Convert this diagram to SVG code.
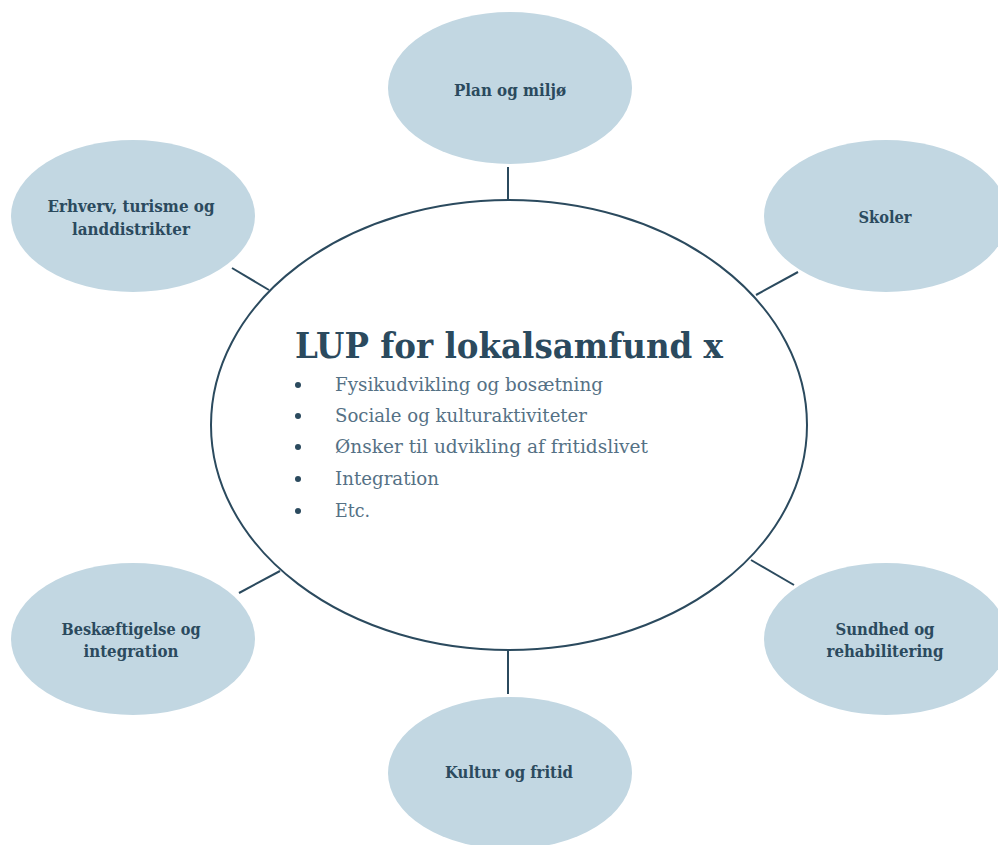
<svg xmlns="http://www.w3.org/2000/svg" width="998" height="845" viewBox="0 0 998 845">
<style>
.outer{fill:#c2d7e2;stroke:none}
.center{fill:#ffffff;stroke:#2b4a5e;stroke-width:2}
.conn{stroke:#2b4a5e;stroke-width:2;fill:none}
.lbl{font-family:"DejaVu Serif","Liberation Serif",serif;font-weight:bold;font-size:16.5px;fill:#2b4a5e;text-anchor:middle}
.title{font-family:"DejaVu Serif","Liberation Serif",serif;font-weight:bold;font-size:36px;fill:#2b4a5e}
.item{font-family:"DejaVu Serif","Liberation Serif",serif;font-size:19px;fill:#557185}
.bul{fill:#2b4a5e}
</style>
<rect width="998" height="845" fill="#ffffff"/>
<g id="connectors">
<line class="conn" x1="508" y1="167" x2="508" y2="200"/>
<line class="conn" x1="232" y1="268" x2="269" y2="290"/>
<line class="conn" x1="798" y1="272" x2="756" y2="295"/>
<line class="conn" x1="239" y1="593" x2="280" y2="571"/>
<line class="conn" x1="794" y1="585" x2="751" y2="560"/>
<line class="conn" x1="508" y1="651" x2="508" y2="694"/>
</g>
<g id="center-node">
<ellipse class="center" cx="509" cy="425" rx="298" ry="225"/>
<text class="title" x="295" y="358" textLength="428" lengthAdjust="spacingAndGlyphs">LUP for lokalsamfund x</text>
<circle class="bul" cx="298" cy="385" r="3"/>
<circle class="bul" cx="298" cy="416" r="3"/>
<circle class="bul" cx="298" cy="447" r="3"/>
<circle class="bul" cx="298" cy="479" r="3"/>
<circle class="bul" cx="298" cy="511" r="3"/>
<text class="item" x="335" y="391" textLength="268" lengthAdjust="spacingAndGlyphs">Fysikudvikling og bosætning</text>
<text class="item" x="335" y="422" textLength="252" lengthAdjust="spacingAndGlyphs">Sociale og kulturaktiviteter</text>
<text class="item" x="335" y="453" textLength="313" lengthAdjust="spacingAndGlyphs">Ønsker til udvikling af fritidslivet</text>
<text class="item" x="335" y="485" textLength="104" lengthAdjust="spacingAndGlyphs">Integration</text>
<text class="item" x="335" y="517" textLength="35" lengthAdjust="spacingAndGlyphs">Etc.</text>
</g>
<g id="node-plan">
<ellipse class="outer" cx="510" cy="88" rx="122" ry="76"/>
<text class="lbl" x="510" y="96" textLength="112" lengthAdjust="spacingAndGlyphs">Plan og miljø</text>
</g>
<g id="node-erhverv">
<ellipse class="outer" cx="133" cy="216" rx="122" ry="76"/>
<text class="lbl" x="131" y="212" textLength="167" lengthAdjust="spacingAndGlyphs">Erhverv, turisme og</text>
<text class="lbl" x="131" y="235" textLength="118" lengthAdjust="spacingAndGlyphs">landdistrikter</text>
</g>
<g id="node-skoler">
<ellipse class="outer" cx="886" cy="216" rx="122" ry="76"/>
<text class="lbl" x="885" y="223" textLength="53" lengthAdjust="spacingAndGlyphs">Skoler</text>
</g>
<g id="node-beskaeftigelse">
<ellipse class="outer" cx="133" cy="639" rx="122" ry="76"/>
<text class="lbl" x="131" y="635" textLength="139" lengthAdjust="spacingAndGlyphs">Beskæftigelse og</text>
<text class="lbl" x="131" y="657" textLength="95" lengthAdjust="spacingAndGlyphs">integration</text>
</g>
<g id="node-sundhed">
<ellipse class="outer" cx="886" cy="639" rx="122" ry="76"/>
<text class="lbl" x="885" y="635" textLength="99" lengthAdjust="spacingAndGlyphs">Sundhed og</text>
<text class="lbl" x="885" y="657" textLength="117" lengthAdjust="spacingAndGlyphs">rehabilitering</text>
</g>
<g id="node-kultur">
<ellipse class="outer" cx="510" cy="773" rx="122" ry="76"/>
<text class="lbl" x="509" y="778" textLength="128" lengthAdjust="spacingAndGlyphs">Kultur og fritid</text>
</g>
</svg>
